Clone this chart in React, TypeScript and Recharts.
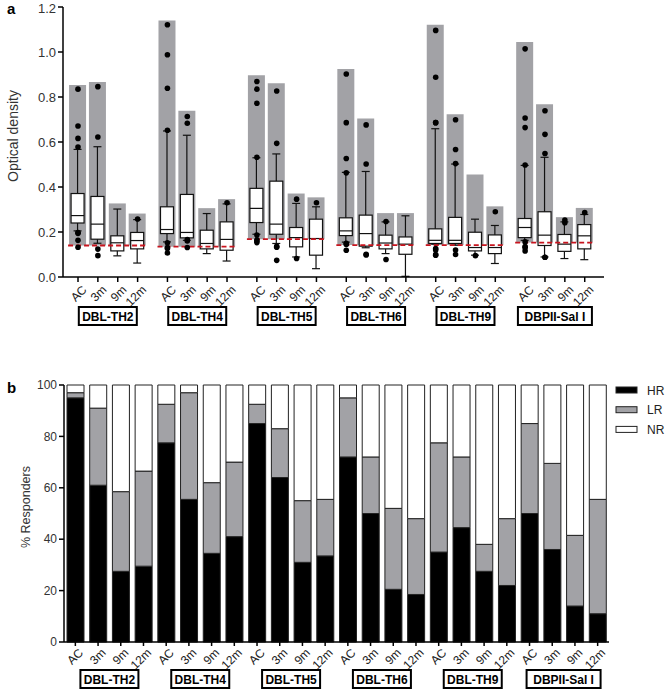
import React from 'react';
import { ComposedChart, BarChart, Bar, Scatter, XAxis, YAxis, ReferenceLine, Label } from 'recharts';

const FONT = 'Arial, "Liberation Sans", Helvetica, sans-serif';

const groups = ['DBL-TH2', 'DBL-TH4', 'DBL-TH5', 'DBL-TH6', 'DBL-TH9', 'DBPII-Sal I'];
const timepoints = ['AC', '3m', '9m', '12m'];

// panel a - optical density (one value per group x timepoint, same order)
const cutoffs = [0.14, 0.135, 0.168, 0.142, 0.142, 0.153];
const grayTop = [
  0.853, 0.867, 0.327, 0.282,
  1.14, 0.739, 0.306, 0.346,
  0.897, 0.861, 0.371, 0.354,
  0.924, 0.704, 0.284, 0.284,
  1.121, 0.723, 0.456, 0.314,
  1.044, 0.768, 0.266, 0.307,
];
const whiskerHigh = [
  0.567, 0.579, 0.302, 0.255,
  0.649, 0.63, 0.282, 0.325,
  0.53, 0.547, 0.327, 0.312,
  0.465, 0.469, 0.245, 0.272,
  0.659, 0.502, 0.257, 0.229,
  0.496, 0.532, 0.245, 0.278,
];
const q3 = [
  0.371, 0.358, 0.183, 0.198,
  0.312, 0.367, 0.208, 0.245,
  0.394, 0.426, 0.22, 0.257,
  0.263, 0.275, 0.186, 0.178,
  0.214, 0.265, 0.199, 0.187,
  0.26, 0.29, 0.189, 0.233,
];
const median = [
  0.273, 0.235, 0.152, 0.162,
  0.211, 0.198, 0.149, 0.167,
  0.305, 0.235, 0.175, 0.171,
  0.205, 0.193, 0.151, 0.146,
  0.163, 0.163, 0.131, 0.131,
  0.22, 0.186, 0.146, 0.183,
];
const q1 = [
  0.24, 0.168, 0.116, 0.125,
  0.193, 0.174, 0.125, 0.119,
  0.242, 0.19, 0.134, 0.097,
  0.184, 0.137, 0.125, 0.101,
  0.149, 0.149, 0.116, 0.104,
  0.175, 0.14, 0.114, 0.125,
];
const whiskerLow = [
  0.205, 0.15, 0.094, 0.062,
  0.156, 0.163, 0.104, 0.071,
  0.19, 0.149, 0.089, 0.037,
  0.155, 0.13, 0.104, 0.003,
  0.146, 0.141, 0.097, 0.06,
  0.163, 0.089, 0.082, 0.077,
];
const outliers = [
  [0.835, 0.671, 0.616, 0.578, 0.198, 0.194, 0.163, 0.132], [0.846, 0.622, 0.124, 0.095], [], [0.258],
  [1.121, 0.988, 0.839, 0.652, 0.152, 0.131, 0.127, 0.107], [0.713, 0.683, 0.166, 0.16, 0.131], [], [0.33],
  [0.869, 0.835, 0.772, 0.532, 0.187, 0.165, 0.16, 0.153], [0.827, 0.594, 0.137, 0.132, 0.074], [0.346, 0.082], [0.33],
  [0.902, 0.686, 0.527, 0.463, 0.15, 0.145, 0.119], [0.676, 0.502, 0.101, 0.098], [0.247, 0.078], [],
  [1.096, 0.888, 0.686, 0.686, 0.127, 0.12, 0.1, 0.097], [0.699, 0.567, 0.504, 0.12, 0.1], [0.095], [0.29],
  [1.014, 0.707, 0.664, 0.498, 0.156, 0.135, 0.131, 0.116], [0.739, 0.634, 0.549, 0.088, 0.088], [0.253, 0.241], [0.287],
];
const odTicks = [0, 0.2, 0.4, 0.6, 0.8, 1.0, 1.2];

// panel b - % responders
const hr = [95, 61, 27.5, 29.5, 77.5, 55.5, 34.5, 41, 85, 64, 31, 33.5, 72, 50, 20.5, 18.5, 35, 44.5, 27.5, 22, 50, 36, 14, 11];
const lr = [2, 30, 31, 37, 15, 41.5, 27.5, 29, 7.5, 19, 24, 22, 23, 22, 31.5, 29.5, 42.5, 27.5, 10.5, 26, 35, 33.5, 27.5, 44.5];
const nr = [3, 9, 41.5, 33.5, 7.5, 3, 38, 30, 7.5, 17, 45, 44.5, 5, 28, 48, 52, 22.5, 28, 62, 52, 15, 30.5, 58.5, 44.5];
const pctTicks = [0, 20, 40, 60, 80, 100];

const series = [
  { key: 'hr', name: 'HR', fill: '#000000' },
  { key: 'lr', name: 'LR', fill: '#a2a2a6' },
  { key: 'nr', name: 'NR', fill: '#ffffff' },
];

// x position with a half-slot gap between antigen groups
const rowsA = groups.flatMap((g, gi) =>
  timepoints.map((t, ti) => {
    const i = gi * 4 + ti;
    return {
      pos: gi * 4.5 + ti,
      gray: [cutoffs[gi], grayTop[i]],
      whisker: [whiskerLow[i], whiskerHigh[i]],
      box: [q1[i], q3[i]],
      q1: q1[i],
      q3: q3[i],
      med: median[i],
    };
  })
);
const posTicks = rowsA.map(r => r.pos);
const groupTicksA = groups.map((g, gi) => gi * 4.5 + 1.5);
const dots = outliers.flatMap((arr, i) => arr.map(v => ({ pos: rowsA[i].pos, v })));
const domainA: [number, number] = [-0.755, 26.47];

const rowsB = groups.flatMap((g, gi) =>
  timepoints.map((t, ti) => {
    const i = gi * 4 + ti;
    return { key: `${g} ${t}`, idx: i, hr: hr[i], lr: lr[i], nr: nr[i] };
  })
);
const groupTicksB = groups.map((g, gi) => gi * 4 + 1.5);

const RotTick = (props: any) => {
  const { x, y, index, dx, dy } = props;
  return (
    <text
      transform={`translate(${x + dx},${y + dy}) rotate(-45)`}
      textAnchor="end"
      fontSize={12}
      fontFamily={FONT}
      fill="#222"
    >
      {timepoints[index % 4]}
    </text>
  );
};

const GroupTick = (props: any) => {
  const { x, y, index } = props;
  const name = groups[index];
  const w = 30 + name.length * 4;
  return (
    <g>
      <rect x={x - w / 2} y={y} width={w} height={18} fill="#fff" stroke="#000" strokeWidth={2} />
      <text x={x} y={y + 13.5} textAnchor="middle" fontSize={12} fontWeight="bold" fontFamily={FONT} fill="#000">
        {name}
      </text>
    </g>
  );
};

const WhiskerShape = (props: any) => {
  const { x, y, width, height } = props;
  const cx = x + width / 2;
  return (
    <g stroke="#111" strokeWidth={1.2}>
      <line x1={cx} x2={cx} y1={y} y2={y + height} />
      <line x1={cx - 4} x2={cx + 4} y1={y} y2={y} />
      <line x1={cx - 4} x2={cx + 4} y1={y + height} y2={y + height} />
    </g>
  );
};

const BoxShape = (props: any) => {
  const { x, y, width, height, payload } = props;
  // median placed on the same linear scale as the box edges
  const my = y + (height * (payload.q3 - payload.med)) / (payload.q3 - payload.q1);
  return (
    <g>
      <rect x={x} y={y} width={width} height={height} fill="#fff" stroke="#111" strokeWidth={1.2} />
      <line x1={x} x2={x + width} y1={my} y2={my} stroke="#111" strokeWidth={1.2} />
    </g>
  );
};

const yLabel = (text: string, dx: number, dy: number, size: number) => (props: any) => {
  const { x, y, height } = props.viewBox;
  return (
    <text
      transform={`translate(${x + dx},${y + height / 2 + dy}) rotate(-90)`}
      textAnchor="middle"
      dominantBaseline="central"
      fontSize={size}
      fontFamily={FONT}
      fill="#333"
    >
      {text}
    </text>
  );
};

export default function App() {
  return (
    <div style={{ position: 'absolute', left: 0, top: 0, width: 666, height: 693, background: '#fff', fontFamily: FONT }}>
      <div style={{ position: 'absolute', left: 0, top: 0 }}>
        <ComposedChart width={666} height={340} data={rowsA} margin={{ top: 7, right: 62, left: 8, bottom: 0 }}>
          <XAxis
            xAxisId="a1"
            type="number"
            dataKey="pos"
            domain={domainA}
            allowDataOverflow
            ticks={posTicks}
            interval={0}
            height={30}
            tickSize={5}
            tickMargin={2}
            stroke="#000"
            strokeWidth={1.5}
            tick={<RotTick dx={9.5} dy={6.5} />}
          />
          <XAxis xAxisId="a2" type="number" dataKey="pos" domain={domainA} allowDataOverflow ticks={posTicks} height={0} hide />
          <XAxis xAxisId="a3" type="number" dataKey="pos" domain={domainA} allowDataOverflow ticks={posTicks} height={0} hide />
          <XAxis
            xAxisId="a4"
            type="number"
            dataKey="pos"
            domain={domainA}
            allowDataOverflow
            ticks={groupTicksA}
            interval={0}
            height={33}
            axisLine={false}
            tickLine={false}
            tickSize={0}
            tickMargin={0}
            tick={<GroupTick />}
          />
          <YAxis
            width={55}
            domain={[0, 1.2]}
            ticks={odTicks}
            allowDataOverflow
            tickFormatter={(v: number) => v.toFixed(1)}
            tickSize={5}
            stroke="#000"
            strokeWidth={1.5}
            tick={{ fill: '#333', fontSize: 13, fontFamily: FONT }}
          >
            <Label content={yLabel('Optical density', 4.5, -6, 14)} />
          </YAxis>
          <Bar xAxisId="a1" dataKey="gray" barSize={17} fill="#a2a2a6" isAnimationActive={false} />
          <Bar xAxisId="a2" dataKey="whisker" barSize={13} shape={<WhiskerShape />} isAnimationActive={false} />
          <Bar xAxisId="a3" dataKey="box" barSize={13} shape={<BoxShape />} isAnimationActive={false} />
          {groups.map((g, gi) => (
            <ReferenceLine
              key={g}
              xAxisId="a1"
              segment={[
                { x: gi * 4.5 - 0.5, y: cutoffs[gi] },
                { x: gi * 4.5 + 3.5, y: cutoffs[gi] },
              ]}
              stroke="#c8141e"
              strokeWidth={1.8}
              strokeDasharray="5 3"
            />
          ))}
          <Scatter
            xAxisId="a1"
            data={dots}
            dataKey="v"
            fill="#000"
            isAnimationActive={false}
            shape={(p: any) => <circle cx={p.cx} cy={p.cy} r={2.8} fill="#000" />}
          />
        </ComposedChart>
      </div>

      <div style={{ position: 'absolute', left: 0, top: 370 }}>
        <BarChart width={666} height={323} data={rowsB} margin={{ top: 15, right: 57, left: 8, bottom: 0 }}>
          <XAxis
            xAxisId="b1"
            dataKey="key"
            interval={0}
            height={28}
            tickSize={4}
            tickMargin={2}
            stroke="#000"
            strokeWidth={1.5}
            tick={<RotTick dx={8.5} dy={5.5} />}
          />
          <XAxis
            xAxisId="b2"
            type="number"
            dataKey="idx"
            domain={[-0.5, 23.5]}
            allowDataOverflow
            ticks={groupTicksB}
            interval={0}
            height={23}
            axisLine={false}
            tickLine={false}
            tickSize={0}
            tickMargin={0}
            tick={<GroupTick />}
          />
          <YAxis
            width={56}
            domain={[0, 100]}
            ticks={pctTicks}
            tickSize={5}
            stroke="#000"
            strokeWidth={1.5}
            tick={{ fill: '#333', fontSize: 12, fontFamily: FONT }}
          >
            <Label content={yLabel('% Responders', 18, -6.5, 12.5)} />
          </YAxis>
          {series.map(s => (
            <Bar
              key={s.key}
              xAxisId="b1"
              dataKey={s.key}
              name={s.name}
              stackId="r"
              barSize={17}
              fill={s.fill}
              stroke="#222"
              strokeWidth={1}
              isAnimationActive={false}
            />
          ))}
        </BarChart>
      </div>

      <svg style={{ position: 'absolute', left: 0, top: 0 }} width={666} height={693}>
        <text x={7} y={14} fontSize={15} fontWeight="bold" fontFamily={FONT} fill="#000">a</text>
        <text x={7} y={393} fontSize={15} fontWeight="bold" fontFamily={FONT} fill="#000">b</text>
        {series.map((s, i) => (
          <g key={s.key}>
            <rect x={616} y={387 + i * 19.7} width={21} height={6} fill={s.fill} stroke="#222" strokeWidth={1} />
            <text x={647} y={394.5 + i * 19.7} fontSize={12} fontFamily={FONT} fill="#222">{s.name}</text>
          </g>
        ))}
      </svg>
    </div>
  );
}
